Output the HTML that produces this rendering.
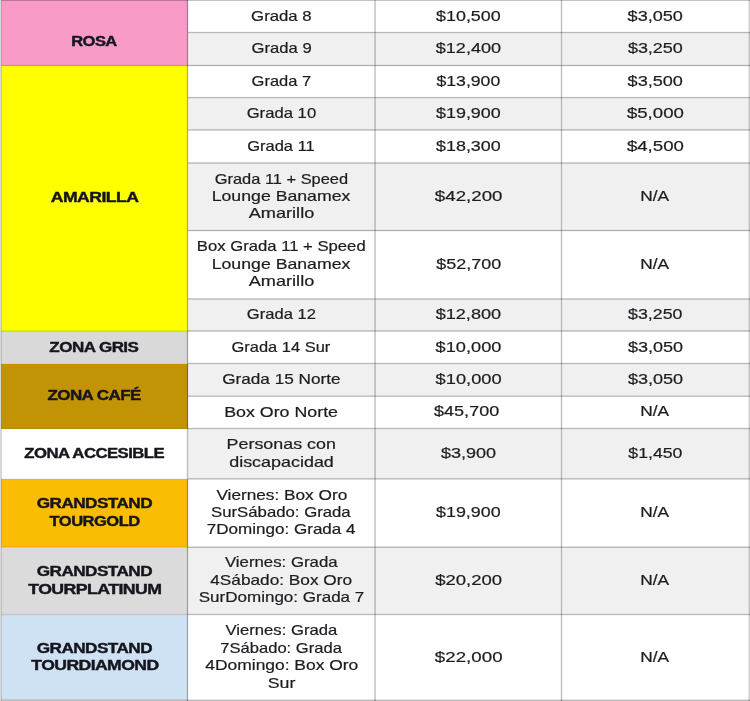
<!DOCTYPE html>
<html lang="es"><head><meta charset="utf-8"><title>Precios</title>
<style>
html,body{margin:0;padding:0;background:#fff;}
body{width:750px;height:701px;overflow:hidden;position:relative;font-family:"Liberation Sans",Arial,sans-serif;color:#1c1c22;}
.c{position:absolute;display:flex;flex-direction:column;align-items:center;justify-content:center;text-align:center;overflow:visible;}
.c div{white-space:nowrap;font-size:14.4px;line-height:17.5px;height:17.5px;-webkit-text-stroke:.2px #1c1c22;}
.c.b div{font-weight:bold;font-size:14px;color:#15151e;line-height:17.6px;height:17.6px;letter-spacing:-.45px;-webkit-text-stroke:.4px #15151e;}
.c span{display:inline-block;transform-origin:50% 50%;}
.h,.v{position:absolute;background:rgba(0,0,0,.27);}
.g{background:#f0f0f0;}
</style></head><body>

<div class="c b" style="left:0px;top:0px;width:188px;height:65.5px;background:#f89bc6;"><div><span id="L0.0" style="transform:translate(-0.35px,8.75px) scaleX(1.1793);">ROSA</span></div></div>
<div class="c b" style="left:0px;top:65.5px;width:188px;height:265.5px;background:#ffff00;"><div><span id="L2.0" style="transform:translate(0.81px,0.17px) scaleX(1.2603);">AMARILLA</span></div></div>
<div class="c b" style="left:0px;top:331px;width:188px;height:32.5px;background:#d9d9d9;"><div><span id="L8.0" style="transform:translate(0.26px,1.47px) scaleX(1.2155);">ZONA GRIS</span></div></div>
<div class="c b" style="left:0px;top:363.5px;width:188px;height:65px;background:#c19305;"><div><span id="L9.0" style="transform:translate(0.6px,-0.38px) scaleX(1.2116);">ZONA CAFÉ</span></div></div>
<div class="c b" style="left:0px;top:428.5px;width:188px;height:50.4px;background:#ffffff;"><div><span id="L11.0" style="transform:translate(0.64px,-0.15px) scaleX(1.1931);">ZONA ACCESIBLE</span></div></div>
<div class="c b" style="left:0px;top:478.9px;width:188px;height:68.3px;background:#fbbc04;"><div><span id="L12.0" style="transform:translate(0.4px,-0.01px) scaleX(1.2256);">GRANDSTAND</span></div><div><span id="L12.1" style="transform:translate(0.5px,-0.2px) scaleX(1.1816);">TOURGOLD</span></div></div>
<div class="c b" style="left:0px;top:547.2px;width:188px;height:67.3px;background:#dbdbdb;"><div><span id="L13.0" style="transform:translate(0.4px,-0.16px) scaleX(1.2256);">GRANDSTAND</span></div><div><span id="L13.1" style="transform:translate(1.14px,0.3px) scaleX(1.2646);">TOURPLATINUM</span></div></div>
<div class="c b" style="left:0px;top:614.5px;width:188px;height:85.9px;background:#cfe2f3;"><div><span id="L14.0" style="transform:translate(0.4px,-0.11px) scaleX(1.2256);">GRANDSTAND</span></div><div><span id="L14.1" style="transform:translate(1.25px,0.2px) scaleX(1.2561);">TOURDIAMOND</span></div></div>
<div class="c" style="left:188px;top:0px;width:187.05px;height:32.5px;"><div><span id="D0.0" style="transform:translate(-0.61px,0.35px) scaleX(1.1648);">Grada 8</span></div></div>
<div class="c" style="left:375.05px;top:0px;width:186.45px;height:32.5px;"><div><span id="P0.0" style="transform:translate(0.38px,-0.4px) scaleX(1.2419);">$10,500</span></div></div>
<div class="c" style="left:561.5px;top:0px;width:188.5px;height:32.5px;"><div><span id="Q0.0" style="transform:translate(-0.76px,0.35px) scaleX(1.2582);">$3,050</span></div></div>
<div class="c g" style="left:188px;top:32.5px;width:187.05px;height:33px;"><div><span id="D1.0" style="transform:translate(-0.36px,-0.15px) scaleX(1.155);">Grada 9</span></div></div>
<div class="c g" style="left:375.05px;top:32.5px;width:186.45px;height:33px;"><div><span id="P1.0" style="transform:translate(0.39px,0.1px) scaleX(1.2561);">$12,400</span></div></div>
<div class="c g" style="left:561.5px;top:32.5px;width:188.5px;height:33px;"><div><span id="Q1.0" style="transform:translate(-0.64px,0.1px) scaleX(1.2488);">$3,250</span></div></div>
<div class="c" style="left:188px;top:65.5px;width:187.05px;height:32.05px;"><div><span id="D2.0" style="transform:translate(-0.62px,0.3px) scaleX(1.145);">Grada 7</span></div></div>
<div class="c" style="left:375.05px;top:65.5px;width:186.45px;height:32.05px;"><div><span id="P2.0" style="transform:translate(0.35px,-0.45px) scaleX(1.2257);">$13,900</span></div></div>
<div class="c" style="left:561.5px;top:65.5px;width:188.5px;height:32.05px;"><div><span id="Q2.0" style="transform:translate(-0.76px,0.3px) scaleX(1.2582);">$3,500</span></div></div>
<div class="c g" style="left:188px;top:97.55px;width:187.05px;height:32.45px;"><div><span id="D3.0" style="transform:translate(-0.6px,-0.2px) scaleX(1.1584);">Grada 10</span></div></div>
<div class="c g" style="left:375.05px;top:97.55px;width:186.45px;height:32.45px;"><div><span id="P3.0" style="transform:translate(0.38px,0.05px) scaleX(1.2419);">$19,900</span></div></div>
<div class="c g" style="left:561.5px;top:97.55px;width:188.5px;height:32.45px;"><div><span id="Q3.0" style="transform:translate(-0.62px,-0.2px) scaleX(1.2953);">$5,000</span></div></div>
<div class="c" style="left:188px;top:130px;width:187.05px;height:33px;"><div><span id="D4.0" style="transform:translate(-0.5px,-0.45px) scaleX(1.1469);">Grada 11</span></div></div>
<div class="c" style="left:375.05px;top:130px;width:186.45px;height:33px;"><div><span id="P4.0" style="transform:translate(0.38px,-0.45px) scaleX(1.2419);">$18,300</span></div></div>
<div class="c" style="left:561.5px;top:130px;width:188.5px;height:33px;"><div><span id="Q4.0" style="transform:translate(-0.62px,0.3px) scaleX(1.2953);">$4,500</span></div></div>
<div class="c g" style="left:188px;top:163px;width:187.05px;height:67.5px;"><div><span id="D5.0" style="transform:translate(-0.06px,0.13px) scaleX(1.1396);">Grada 11 + Speed</span></div><div><span id="D5.1" style="transform:translate(-0.38px,-0.12px) scaleX(1.2294);">Lounge Banamex</span></div><div><span id="D5.2" style="transform:translate(-0.49px,-0.67px) scaleX(1.2603);">Amarillo</span></div></div>
<div class="c g" style="left:375.05px;top:163px;width:186.45px;height:67.5px;"><div><span id="P5.0" style="transform:translate(0.63px,0.22px) scaleX(1.2993);">$42,200</span></div></div>
<div class="c g" style="left:561.5px;top:163px;width:188.5px;height:67.5px;"><div><span id="Q5.0" style="transform:translate(-1.36px,0.22px) scaleX(1.2029);">N/A</span></div></div>
<div class="c" style="left:188px;top:230.5px;width:187.05px;height:68.45px;"><div><span id="D6.0" style="transform:translate(-0.62px,0.45px) scaleX(1.1582);">Box Grada 11 + Speed</span></div><div><span id="D6.1" style="transform:translate(-0.38px,-0.05px) scaleX(1.2294);">Lounge Banamex</span></div><div><span id="D6.2" style="transform:translate(-0.49px,0.4px) scaleX(1.2603);">Amarillo</span></div></div>
<div class="c" style="left:375.05px;top:230.5px;width:186.45px;height:68.45px;"><div><span id="P6.0" style="transform:translate(0.63px,-0.4px) scaleX(1.2495);">$52,700</span></div></div>
<div class="c" style="left:561.5px;top:230.5px;width:188.5px;height:68.45px;"><div><span id="Q6.0" style="transform:translate(-1.36px,-0.4px) scaleX(1.2029);">N/A</span></div></div>
<div class="c g" style="left:188px;top:298.95px;width:187.05px;height:32.05px;"><div><span id="D7.0" style="transform:translate(-0.64px,0.05px) scaleX(1.1503);">Grada 12</span></div></div>
<div class="c g" style="left:375.05px;top:298.95px;width:186.45px;height:32.05px;"><div><span id="P7.0" style="transform:translate(0.38px,-0.05px) scaleX(1.2595);">$12,800</span></div></div>
<div class="c g" style="left:561.5px;top:298.95px;width:188.5px;height:32.05px;"><div><span id="Q7.0" style="transform:translate(-0.76px,-0.05px) scaleX(1.2343);">$3,250</span></div></div>
<div class="c" style="left:188px;top:331px;width:187.05px;height:32.5px;"><div><span id="D8.0" style="transform:translate(-0.26px,-0.28px) scaleX(1.1434);">Grada 14 Sur</span></div></div>
<div class="c" style="left:375.05px;top:331px;width:186.45px;height:32.5px;"><div><span id="P8.0" style="transform:translate(0.49px,-0.28px) scaleX(1.2643);">$10,000</span></div></div>
<div class="c" style="left:561.5px;top:331px;width:188.5px;height:32.5px;"><div><span id="Q8.0" style="transform:translate(-0.5px,0.47px) scaleX(1.2526);">$3,050</span></div></div>
<div class="c g" style="left:188px;top:363.5px;width:187.05px;height:32.7px;"><div><span id="D9.0" style="transform:translate(-0.25px,-0.03px) scaleX(1.1925);">Grada 15 Norte</span></div></div>
<div class="c g" style="left:375.05px;top:363.5px;width:186.45px;height:32.7px;"><div><span id="P9.0" style="transform:translate(0.63px,0.17px) scaleX(1.2693);">$10,000</span></div></div>
<div class="c g" style="left:561.5px;top:363.5px;width:188.5px;height:32.7px;"><div><span id="Q9.0" style="transform:translate(-0.5px,-0.08px) scaleX(1.2526);">$3,050</span></div></div>
<div class="c" style="left:188px;top:396.2px;width:187.05px;height:32.3px;"><div><span id="D10.0" style="transform:translate(-0.89px,-0.45px) scaleX(1.2368);">Box Oro Norte</span></div></div>
<div class="c" style="left:375.05px;top:396.2px;width:186.45px;height:32.3px;"><div><span id="P10.0" style="transform:translate(-1.38px,-1.5px) scaleX(1.2521);">$45,700</span></div></div>
<div class="c" style="left:561.5px;top:396.2px;width:188.5px;height:32.3px;"><div><span id="Q10.0" style="transform:translate(-1.36px,-1.5px) scaleX(1.2029);">N/A</span></div></div>
<div class="c g" style="left:188px;top:428.5px;width:187.05px;height:50.4px;"><div><span id="D11.0" style="transform:translate(-0.76px,0.05px) scaleX(1.2414);">Personas con</span></div><div><span id="D11.1" style="transform:translate(-0.5px,0.3px) scaleX(1.2457);">discapacidad</span></div></div>
<div class="c g" style="left:375.05px;top:428.5px;width:186.45px;height:50.4px;"><div><span id="P11.0" style="transform:translate(0.56px,-0.15px) scaleX(1.2518);">$3,900</span></div></div>
<div class="c g" style="left:561.5px;top:428.5px;width:188.5px;height:50.4px;"><div><span id="Q11.0" style="transform:translate(-0.66px,0.1px) scaleX(1.2268);">$1,450</span></div></div>
<div class="c" style="left:188px;top:478.9px;width:187.05px;height:68.3px;"><div><span id="D12.0" style="transform:translate(0.15px,-0.5px) scaleX(1.197);">Viernes: Box Oro</span></div><div><span id="D12.1" style="transform:translate(-1.14px,-0.25px) scaleX(1.1637);">SurSábado: Grada</span></div><div><span id="D12.2" style="transform:translate(-0.63px,-0.55px) scaleX(1.1842);">7Domingo: Grada 4</span></div></div>
<div class="c" style="left:375.05px;top:478.9px;width:186.45px;height:68.3px;"><div><span id="P12.0" style="transform:translate(0.33px,0.4px) scaleX(1.2413);">$19,900</span></div></div>
<div class="c" style="left:561.5px;top:478.9px;width:188.5px;height:68.3px;"><div><span id="Q12.0" style="transform:translate(-1.36px,0.4px) scaleX(1.2029);">N/A</span></div></div>
<div class="c g" style="left:188px;top:547.2px;width:187.05px;height:67.3px;"><div><span id="D13.0" style="transform:translate(0px,-1.2px) scaleX(1.1662);">Viernes: Grada</span></div><div><span id="D13.1" style="transform:translate(-0.01px,-0.05px) scaleX(1.198);">4Sábado: Box Oro</span></div><div><span id="D13.2" style="transform:translate(-0.5px,-0.6px) scaleX(1.1825);">SurDomingo: Grada 7</span></div></div>
<div class="c g" style="left:375.05px;top:547.2px;width:186.45px;height:67.3px;"><div><span id="P13.0" style="transform:translate(0.68px,0.05px) scaleX(1.2869);">$20,200</span></div></div>
<div class="c g" style="left:561.5px;top:547.2px;width:188.5px;height:67.3px;"><div><span id="Q13.0" style="transform:translate(-1.36px,0.05px) scaleX(1.2029);">N/A</span></div></div>
<div class="c" style="left:188px;top:614.5px;width:187.05px;height:85.9px;"><div><span id="D14.0" style="transform:translate(0.12px,-0.3px) scaleX(1.1586);">Viernes: Grada</span></div><div><span id="D14.1" style="transform:translate(-0.74px,0.3px) scaleX(1.1524);">7Sábado: Grada</span></div><div><span id="D14.2" style="transform:translate(0.57px,0.4px) scaleX(1.2096);">4Domingo: Box Oro</span></div><div><span id="D14.3" style="transform:translate(0.37px,-0.35px) scaleX(1.2341);">Sur</span></div></div>
<div class="c" style="left:375.05px;top:614.5px;width:186.45px;height:85.9px;"><div><span id="P14.0" style="transform:translate(0.68px,0px) scaleX(1.3019);">$22,000</span></div></div>
<div class="c" style="left:561.5px;top:614.5px;width:188.5px;height:85.9px;"><div><span id="Q14.0" style="transform:translate(-1.36px,0px) scaleX(1.2029);">N/A</span></div></div>
<div class="h" style="left:1px;top:0px;width:749px;height:1px;background:rgba(0,0,0,0.238);"></div>
<div class="h" style="left:188px;top:31px;width:562px;height:1px;background:rgba(0,0,0,0.035);"></div>
<div class="h" style="left:188px;top:32px;width:562px;height:1px;background:rgba(0,0,0,0.280);"></div>
<div class="h" style="left:188px;top:33px;width:562px;height:1px;background:rgba(0,0,0,0.035);"></div>
<div class="h" style="left:1px;top:64px;width:187px;height:1px;background:rgba(0,0,0,0.016);"></div>
<div class="h" style="left:1px;top:65px;width:187px;height:1px;background:rgba(0,0,0,0.130);"></div>
<div class="h" style="left:1px;top:66px;width:187px;height:1px;background:rgba(0,0,0,0.016);"></div>
<div class="h" style="left:188px;top:64px;width:562px;height:1px;background:rgba(0,0,0,0.035);"></div>
<div class="h" style="left:188px;top:65px;width:562px;height:1px;background:rgba(0,0,0,0.280);"></div>
<div class="h" style="left:188px;top:66px;width:562px;height:1px;background:rgba(0,0,0,0.035);"></div>
<div class="h" style="left:188px;top:96px;width:562px;height:1px;background:rgba(0,0,0,0.021);"></div>
<div class="h" style="left:188px;top:97px;width:562px;height:1px;background:rgba(0,0,0,0.280);"></div>
<div class="h" style="left:188px;top:98px;width:562px;height:1px;background:rgba(0,0,0,0.049);"></div>
<div class="h" style="left:188px;top:129px;width:562px;height:1px;background:rgba(0,0,0,0.175);"></div>
<div class="h" style="left:188px;top:130px;width:562px;height:1px;background:rgba(0,0,0,0.175);"></div>
<div class="h" style="left:188px;top:162px;width:562px;height:1px;background:rgba(0,0,0,0.175);"></div>
<div class="h" style="left:188px;top:163px;width:562px;height:1px;background:rgba(0,0,0,0.175);"></div>
<div class="h" style="left:188px;top:229px;width:562px;height:1px;background:rgba(0,0,0,0.035);"></div>
<div class="h" style="left:188px;top:230px;width:562px;height:1px;background:rgba(0,0,0,0.280);"></div>
<div class="h" style="left:188px;top:231px;width:562px;height:1px;background:rgba(0,0,0,0.035);"></div>
<div class="h" style="left:188px;top:298px;width:562px;height:1px;background:rgba(0,0,0,0.189);"></div>
<div class="h" style="left:188px;top:299px;width:562px;height:1px;background:rgba(0,0,0,0.161);"></div>
<div class="h" style="left:1px;top:330px;width:187px;height:1px;background:rgba(0,0,0,0.081);"></div>
<div class="h" style="left:1px;top:331px;width:187px;height:1px;background:rgba(0,0,0,0.081);"></div>
<div class="h" style="left:188px;top:330px;width:562px;height:1px;background:rgba(0,0,0,0.175);"></div>
<div class="h" style="left:188px;top:331px;width:562px;height:1px;background:rgba(0,0,0,0.175);"></div>
<div class="h" style="left:1px;top:362px;width:187px;height:1px;background:rgba(0,0,0,0.004);"></div>
<div class="h" style="left:1px;top:363px;width:187px;height:1px;background:rgba(0,0,0,0.030);"></div>
<div class="h" style="left:1px;top:364px;width:187px;height:1px;background:rgba(0,0,0,0.004);"></div>
<div class="h" style="left:188px;top:362px;width:562px;height:1px;background:rgba(0,0,0,0.035);"></div>
<div class="h" style="left:188px;top:363px;width:562px;height:1px;background:rgba(0,0,0,0.280);"></div>
<div class="h" style="left:188px;top:364px;width:562px;height:1px;background:rgba(0,0,0,0.035);"></div>
<div class="h" style="left:188px;top:395px;width:562px;height:1px;background:rgba(0,0,0,0.119);"></div>
<div class="h" style="left:188px;top:396px;width:562px;height:1px;background:rgba(0,0,0,0.231);"></div>
<div class="h" style="left:1px;top:427px;width:187px;height:1px;background:rgba(0,0,0,0.004);"></div>
<div class="h" style="left:1px;top:428px;width:187px;height:1px;background:rgba(0,0,0,0.030);"></div>
<div class="h" style="left:1px;top:429px;width:187px;height:1px;background:rgba(0,0,0,0.004);"></div>
<div class="h" style="left:188px;top:427px;width:562px;height:1px;background:rgba(0,0,0,0.035);"></div>
<div class="h" style="left:188px;top:428px;width:562px;height:1px;background:rgba(0,0,0,0.280);"></div>
<div class="h" style="left:188px;top:429px;width:562px;height:1px;background:rgba(0,0,0,0.035);"></div>
<div class="h" style="left:1px;top:478px;width:187px;height:1px;background:rgba(0,0,0,0.044);"></div>
<div class="h" style="left:1px;top:479px;width:187px;height:1px;background:rgba(0,0,0,0.031);"></div>
<div class="h" style="left:188px;top:478px;width:562px;height:1px;background:rgba(0,0,0,0.203);"></div>
<div class="h" style="left:188px;top:479px;width:562px;height:1px;background:rgba(0,0,0,0.147);"></div>
<div class="h" style="left:1px;top:546px;width:187px;height:1px;background:rgba(0,0,0,0.042);"></div>
<div class="h" style="left:1px;top:547px;width:187px;height:1px;background:rgba(0,0,0,0.083);"></div>
<div class="h" style="left:188px;top:546px;width:562px;height:1px;background:rgba(0,0,0,0.119);"></div>
<div class="h" style="left:188px;top:547px;width:562px;height:1px;background:rgba(0,0,0,0.231);"></div>
<div class="h" style="left:1px;top:613px;width:187px;height:1px;background:rgba(0,0,0,0.028);"></div>
<div class="h" style="left:1px;top:614px;width:187px;height:1px;background:rgba(0,0,0,0.220);"></div>
<div class="h" style="left:1px;top:615px;width:187px;height:1px;background:rgba(0,0,0,0.028);"></div>
<div class="h" style="left:188px;top:613px;width:562px;height:1px;background:rgba(0,0,0,0.035);"></div>
<div class="h" style="left:188px;top:614px;width:562px;height:1px;background:rgba(0,0,0,0.280);"></div>
<div class="h" style="left:188px;top:615px;width:562px;height:1px;background:rgba(0,0,0,0.035);"></div>
<div class="h" style="left:1px;top:699px;width:187px;height:1px;background:rgba(0,0,0,0.095);"></div>
<div class="h" style="left:1px;top:700px;width:187px;height:1px;background:rgba(0,0,0,0.270);"></div>
<div class="h" style="left:1px;top:701px;width:187px;height:1px;background:rgba(0,0,0,0.040);"></div>
<div class="h" style="left:188px;top:699px;width:562px;height:1px;background:rgba(0,0,0,0.098);"></div>
<div class="h" style="left:188px;top:700px;width:562px;height:1px;background:rgba(0,0,0,0.280);"></div>
<div class="h" style="left:188px;top:701px;width:562px;height:1px;background:rgba(0,0,0,0.042);"></div>
<div class="v" style="left:186px;top:0px;width:1px;height:701px;background:rgba(0,0,0,0.035);"></div>
<div class="v" style="left:187px;top:0px;width:1px;height:701px;background:rgba(0,0,0,0.280);"></div>
<div class="v" style="left:188px;top:0px;width:1px;height:701px;background:rgba(0,0,0,0.035);"></div>
<div class="v" style="left:374px;top:0px;width:1px;height:701px;background:rgba(0,0,0,0.161);"></div>
<div class="v" style="left:375px;top:0px;width:1px;height:701px;background:rgba(0,0,0,0.189);"></div>
<div class="v" style="left:560px;top:0px;width:1px;height:701px;background:rgba(0,0,0,0.035);"></div>
<div class="v" style="left:561px;top:0px;width:1px;height:701px;background:rgba(0,0,0,0.280);"></div>
<div class="v" style="left:562px;top:0px;width:1px;height:701px;background:rgba(0,0,0,0.035);"></div>
<div class="v" style="left:748px;top:0px;width:1px;height:701px;background:rgba(0,0,0,0.095);"></div>
<div class="v" style="left:749px;top:0px;width:1px;height:701px;background:rgba(0,0,0,0.190);"></div>
<div class="v" style="left:750px;top:0px;width:1px;height:701px;background:rgba(0,0,0,0.019);"></div>
<div class="v" style="left:0;top:0;width:1px;height:701px;background:#d8d8d8;"></div>
<div class="v" style="left:1px;top:0;width:1px;height:701px;background:rgba(120,120,120,.3);"></div>
</body></html>
